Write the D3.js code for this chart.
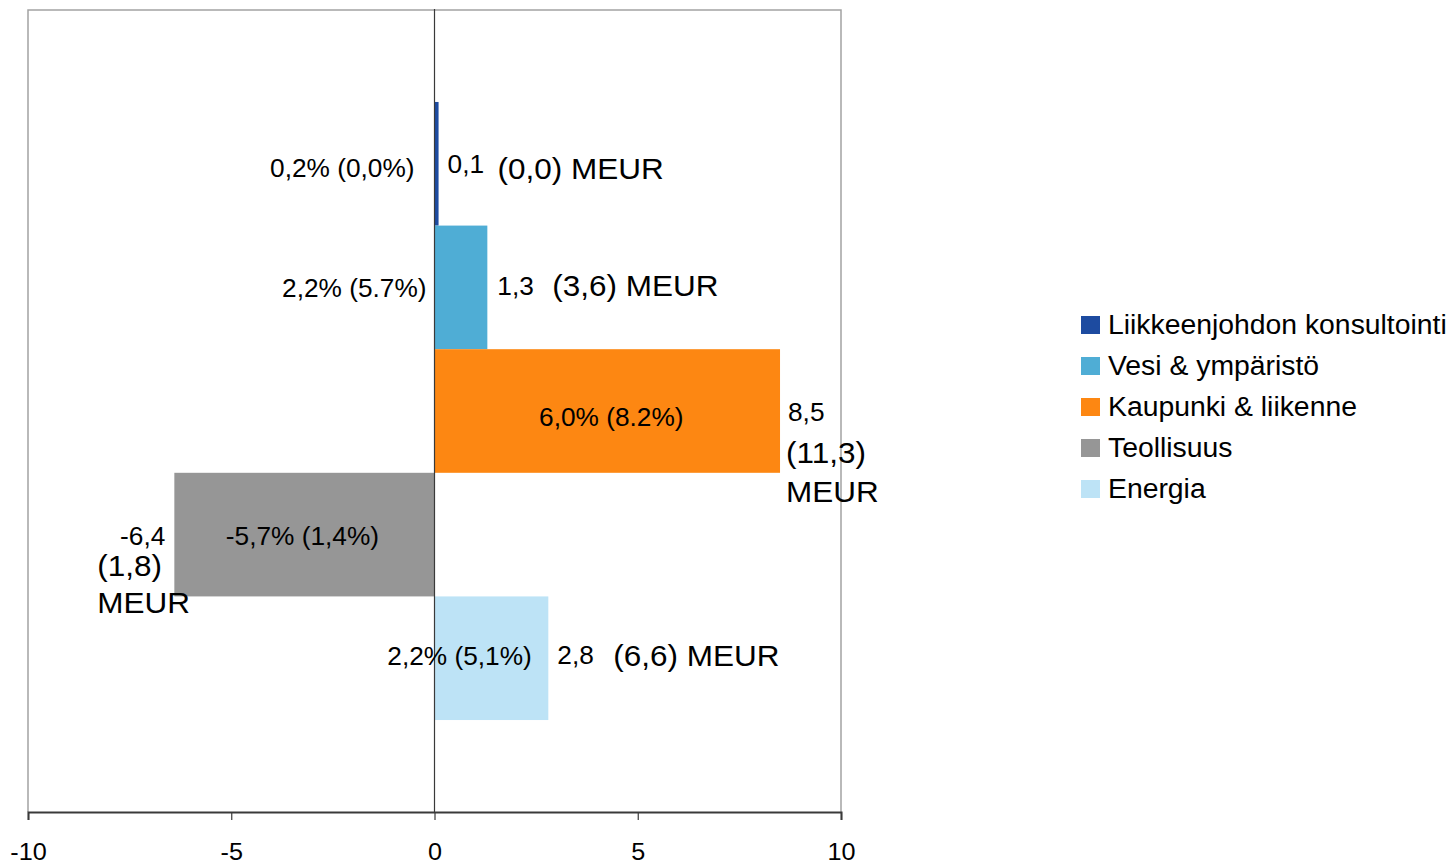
<!DOCTYPE html>
<html>
<head>
<meta charset="utf-8">
<script src="https://cdn.jsdelivr.net/npm/d3@7/dist/d3.min.js"></script>
<style>
  html, body { margin: 0; padding: 0; background: #ffffff; }
  svg { display: block; }
  text { font-family: "Liberation Sans", Arial, Helvetica, sans-serif; fill: #000; }
</style>
</head>
<body>
<svg id="chart" width="1454" height="864"></svg>
<script>
// Business areas (one bar each)
const series = [
  "Liikkeenjohdon konsultointi",
  "Vesi & ympäristö",
  "Kaupunki & liikenne",
  "Teollisuus",
  "Energia"
];
// Change, MEUR
const values = [0.1, 1.3, 8.5, -6.4, 2.8];
const valueLabels = ["0,1", "1,3", "8,5", "-6,4", "2,8"];
// Comparison figures, MEUR
const prevLabels = ["(0,0)", "(3,6)", "(11,3)", "(1,8)", "(6,6)"];
const unitLabel = "MEUR";
// Percentage notes
const pctLabels = ["0,2% (0,0%)", "2,2% (5.7%)", "6,0% (8.2%)", "-5,7% (1,4%)", "2,2% (5,1%)"];
const xTicks = [-10, -5, 0, 5, 10];
const colors = ["#1d4ba0", "#4fadd5", "#fd8712", "#969696", "#bde3f6"];

const svg = d3.select("#chart");
const plot = { left: 28, right: 841, top: 10, bottom: 812 };
const SX = 1.05; // horizontal text stretch

const x = d3.scaleLinear().domain([-10, 10]).range([plot.left, plot.right]);
const y = d3.scaleBand().domain(series)
  .range([plot.top, plot.bottom])
  .paddingInner(0).paddingOuter(0.744);

function label(g, str, px, py, size, anchor) {
  return g.append("text")
    .attr("transform", `translate(${px},${py}) scale(${SX},1)`)
    .attr("text-anchor", anchor || "start")
    .style("font-size", size + "px")
    .text(str);
}

// Plot frame (left, top, right)
svg.append("path")
  .attr("d", `M${plot.left},${plot.bottom} V${plot.top} H${plot.right} V${plot.bottom}`)
  .attr("fill", "none").attr("stroke", "#a3a3a3").attr("stroke-width", 1.5);

// Bars
svg.append("g").selectAll("rect").data(series).join("rect")
  .attr("x", (d, i) => Math.min(x(0), x(values[i])))
  .attr("y", d => y(d))
  .attr("width", (d, i) => Math.abs(x(values[i]) - x(0)))
  .attr("height", y.bandwidth())
  .attr("fill", (d, i) => colors[i]);

// Zero line
svg.append("line")
  .attr("x1", x(0)).attr("x2", x(0))
  .attr("y1", plot.top - 1).attr("y2", plot.bottom)
  .attr("stroke", "#3a3a3a").attr("stroke-width", 1.2);

// X axis
const axis = svg.append("g").attr("transform", `translate(0,${plot.bottom})`)
  .call(d3.axisBottom(x).tickValues(xTicks).tickSize(8).tickFormat(d3.format("d")));
axis.select(".domain").attr("stroke", "#3a3a3a").attr("stroke-width", 2);
axis.selectAll(".tick line").attr("stroke", "#3a3a3a").attr("stroke-width", 1.2);
axis.selectAll(".tick text")
  .attr("y", 0).attr("dy", null)
  .attr("transform", `translate(0,48) scale(${SX},1)`)
  .style("font-size", "24px")
  .text(d => d3.format("d")(d).replace("−", "-"));

// Data labels
const lab = svg.append("g");
const SMALL = 25, BIG = 30;
const mid = i => y(series[i]) + y.bandwidth() / 2;

// percentage notes
label(lab, pctLabels[0], x(0) - 20, mid(0) + 13, SMALL, "end");
label(lab, pctLabels[1], x(0) - 8, mid(1) + 10, SMALL, "end");
label(lab, pctLabels[2], (x(0) + x(values[2])) / 2 + 4, mid(2) + 15, SMALL, "middle");
label(lab, pctLabels[3], (x(0) + x(values[3])) / 2 - 2, mid(3) + 10, SMALL, "middle");
label(lab, pctLabels[4], x(0) + 25, mid(4) + 7, SMALL, "middle");

// single-line value labels
[[0, 9, 50, 9, 15], [1, 10, 55, 8, 9], [4, 9, 56, 6, 8]].forEach(([i, dx, dx2, dy, dy2]) => {
  label(lab, valueLabels[i], x(values[i]) + dx, mid(i) + dy, SMALL);
  label(lab, prevLabels[i] + " " + unitLabel, x(values[i]) + dx + dx2, mid(i) + dy2, BIG);
});

// stacked value labels
label(lab, valueLabels[2], x(values[2]) + 8, mid(2) + 10, SMALL);
label(lab, prevLabels[2], x(values[2]) + 6, mid(2) + 52, BIG);
label(lab, unitLabel, x(values[2]) + 6, mid(2) + 91, BIG);

label(lab, valueLabels[3], x(values[3]) - 9, mid(3) + 10, SMALL, "end");
label(lab, prevLabels[3], x(values[3]) - 77, mid(3) + 41, BIG);
label(lab, unitLabel, x(values[3]) - 77, mid(3) + 78, BIG);

// Legend
const legend = svg.append("g").attr("transform", "translate(1081,325)");
const rows = legend.selectAll("g").data(series).join("g")
  .attr("transform", (d, i) => `translate(0,${i * 41})`);
rows.append("rect").attr("x", 0).attr("y", -9).attr("width", 19).attr("height", 18)
  .attr("fill", (d, i) => colors[i]);
rows.each(function (d) { label(d3.select(this), d, 27, 9, 27); });
</script>
</body>
</html>
